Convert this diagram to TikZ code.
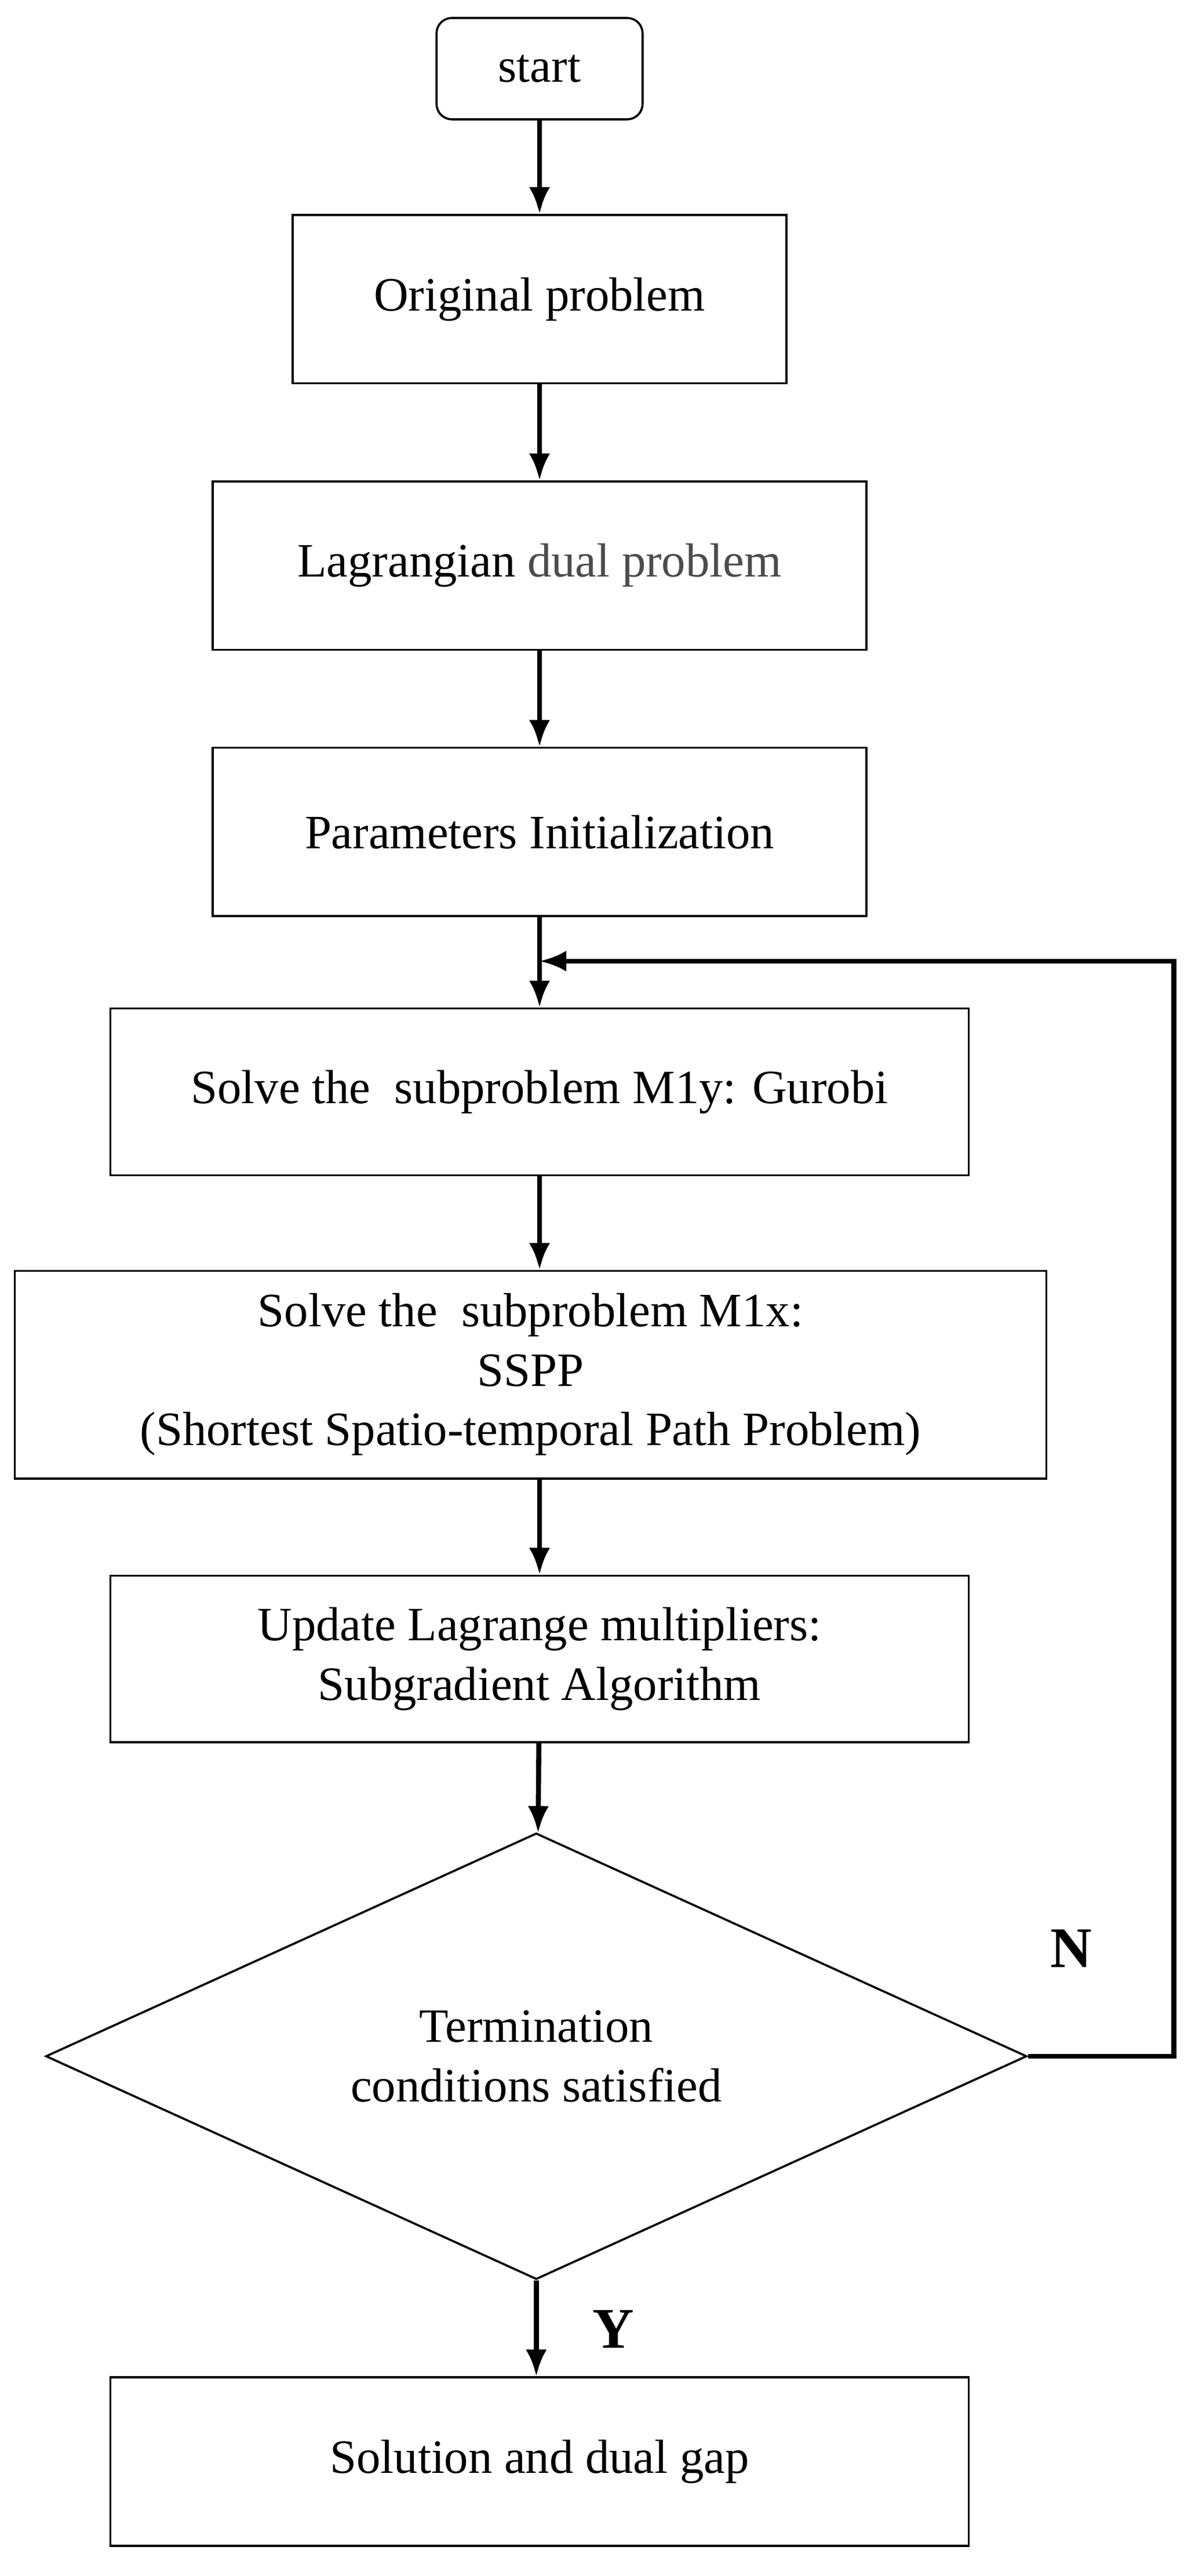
\documentclass[tikz,border=0pt]{standalone}
\usepackage{fontspec}
\setmainfont{Liberation Serif}
\usetikzlibrary{shapes.geometric,arrows.meta}
\begin{document}
\begin{tikzpicture}[x=0.03cm,y=-0.03cm,
    box/.style={draw,line width=1.1pt,align=center,font=\fontsize{25}{31}\selectfont,inner sep=0pt},
    flow/.style={line width=2.6pt,-{Latex[length=14pt,width=11pt]}}]
\useasboundingbox (0,0) rectangle (735,1576);
\begin{scope}
    \node (start)[box,rounded corners=8pt,minimum width=3.78cm,minimum height=1.86cm] at (330,42) {start};
    \node (orig)[box,minimum width=9.06cm,minimum height=3.09cm] at (330,183) {Original problem};
    \node (dual)[box,minimum width=12cm,minimum height=3.09cm] at (330,346) {Lagrangian \textcolor{black!70}{dual problem}};
    \node (init)[box,minimum width=12cm,minimum height=3.09cm] at (330,509) {Parameters Initialization};
    \node (mly)[box,minimum width=15.75cm,minimum height=3.06cm] at (330,668) {Solve the \ subproblem M1y: Gurobi};
    \node (mlx)[box,minimum width=18.93cm,minimum height=3.81cm] at (324.5,841) {Solve the \ subproblem M1x:\\SSPP\\(Shortest Spatio-temporal Path Problem)};
    \node (upd)[box,minimum width=15.75cm,minimum height=3.06cm] at (330,1015) {Update Lagrange multipliers:\\Subgradient Algorithm};
    \node (term)[box,diamond,aspect=2.2,minimum width=18cm,minimum height=8.19cm] at (328,1258) {Termination\\conditions satisfied};
    \node (sol)[box,minimum width=15.75cm,minimum height=3.09cm] at (330,1506) {Solution and dual gap};
\end{scope}
\coordinate (cR) at (718,1258);
\coordinate (cT) at (718,588);
\coordinate (cM) at (330,588);
\draw[flow] (start) -- (orig);
\draw[flow] (orig) -- (dual);
\draw[flow] (dual) -- (init);
\draw[flow] (init) -- (mly);
\draw[flow] (mly) -- (mlx.north -| mly);
\draw[flow] (mlx.south -| upd) -- (upd);
\draw[flow] (upd) -- (term);
\draw[flow] (term) -- (sol.north -| term);
\draw[flow] (term.east) -- (cR) -- (cT) -- (cM);
\node (no) at (655,1192) {\fontsize{30}{36}\selectfont\bfseries N};
\node (yes) at (375,1425) {\fontsize{30}{36}\selectfont\bfseries Y};
\end{tikzpicture}
\end{document}
